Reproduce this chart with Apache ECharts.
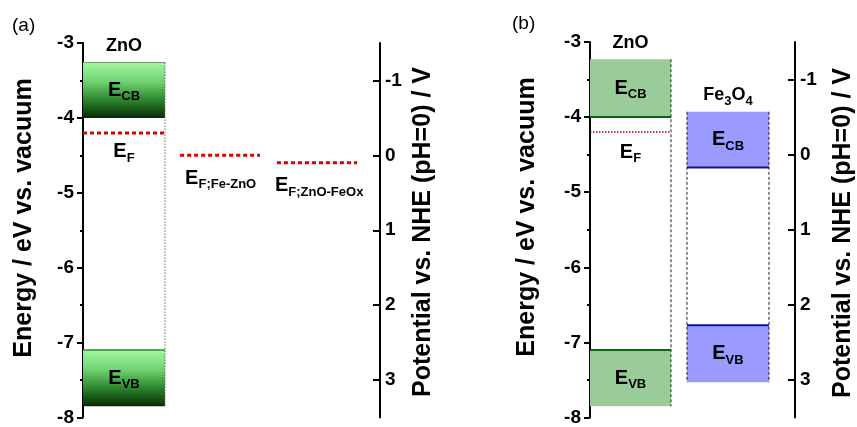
<!DOCTYPE html>
<html>
<head>
<meta charset="utf-8">
<script src="https://cdn.jsdelivr.net/npm/echarts@6/dist/echarts.min.js"></script>
<style>html,body{margin:0;padding:0;background:#fff;}#chart{width:857px;height:427px;}</style>
</head>
<body>
<div id="chart"></div>
<script>
// ---------- data (eV vs. vacuum) ----------
const energyTicks = [-8, -7, -6, -5, -4, -3];
const potentialTicks = [-1, 0, 1, 2, 3];
const potentialMinorTicks = [-1.5, -0.5, 0.5, 1.5, 2.5, 3.5];
const nheOffset = -4.5; // E(vacuum) = -(U_NHE) - 4.5

// panel (a)
const znoCB_A = [-3.26, -4.0];
const znoVB_A = [-7.1, -7.85];
const znoEF_A = -4.2;
const mixedFermiNames = ['F;Fe-ZnO', 'F;ZnO-FeOx'];
const mixedFermiValues = [-4.5, -4.6];

// panel (b)
const znoCB_B = [-3.23, -4.0];
const znoVB_B = [-7.1, -7.85];
const znoEF_B = -4.2;
const fe3o4CB = [-3.93, -4.67];
const fe3o4VB = [-6.77, -7.53];

// ---------- layout / style ----------
const FONT = 'Liberation Sans, Arial, sans-serif';
const colA = { zno: [0, 0.276], f1: [0.327, 0.596], f2: [0.653, 0.923] };
const colB = { zno: [0, 0.395], fe: [0.473, 0.873] };

const greenGrad = () => new echarts.graphic.LinearGradient(0, 0, 0, 1, [
  { offset: 0, color: '#a2f7a2' },
  { offset: 0.35, color: '#6fd26f' },
  { offset: 0.7, color: '#2a7f2a' },
  { offset: 1, color: '#062a06' }
]);

const richBase = {
  e: { fontSize: 20, fontWeight: 'bold', fontFamily: FONT, lineHeight: 26, fill: '#000', color: '#000' },
  s: { fontSize: 13, fontWeight: 'bold', fontFamily: FONT, lineHeight: 13, verticalAlign: 'bottom', fill: '#000', color: '#000' },
  t: { fontSize: 18, fontWeight: 'bold', fontFamily: FONT, lineHeight: 26, fill: '#000', color: '#000' },
  ts: { fontSize: 13, fontWeight: 'bold', fontFamily: FONT, lineHeight: 13, verticalAlign: 'bottom', fill: '#000', color: '#000' }
};

const itemsA = [
  { kind: 'box', x: colA.zno, y: znoCB_A, fill: greenGrad(), edgeTop: '#6a9a6a', edgeTopW: 1, label: '{e|E}{s|CB}', title: '{t|ZnO}' },
  { kind: 'box', x: colA.zno, y: znoVB_A, fill: greenGrad(), edgeTop: '#2a8a2a', edgeTopW: 1.5, label: '{e|E}{s|VB}' },
  { kind: 'vline', x: colA.zno[1], y: [znoCB_A[0], znoVB_A[1]], stroke: '#666', width: 1, dash: [1.5, 1.5] },
  { kind: 'hline', x: colA.zno, y: znoEF_A, stroke: '#d90000', width: 3, dash: [4, 3], label: '{e|E}{s|F}', labelAlign: 'center', dy: 19 },
  { kind: 'hline', x: colA.f1, y: mixedFermiValues[0], stroke: '#d90000', width: 3, dash: [4, 3], label: '{e|E}{s|' + mixedFermiNames[0] + '}', labelAlign: 'left', dx: 5, dy: 23 },
  { kind: 'hline', x: colA.f2, y: mixedFermiValues[1], stroke: '#d90000', width: 3, dash: [4, 3], label: '{e|E}{s|' + mixedFermiNames[1] + '}', labelAlign: 'left', dx: -2, dy: 23 }
];

const itemsB = [
  { kind: 'box', x: colB.zno, y: znoCB_B, fill: '#99cc99', edgeBottom: '#0a6a0a', edgeBottomW: 2, label: '{e|E}{s|CB}', title: '{t|ZnO}' },
  { kind: 'box', x: colB.zno, y: znoVB_B, fill: '#99cc99', edgeTop: '#0a6a0a', edgeTopW: 2, label: '{e|E}{s|VB}' },
  { kind: 'vline', x: colB.zno[1], y: [znoCB_B[0], znoVB_B[1]], stroke: '#222', width: 1, dash: [3, 2] },
  { kind: 'hline', x: colB.zno, y: znoEF_B, stroke: '#a00020', width: 1.5, dash: [1.5, 1.5], label: '{e|E}{s|F}', labelAlign: 'center', dy: 20 },
  { kind: 'box', x: colB.fe, y: fe3o4CB, fill: '#9a9aff', edgeBottom: '#1010a0', edgeBottomW: 2, label: '{e|E}{s|CB}', title: '{t|Fe}{ts|3}{t|O}{ts|4}', titleDy: -17 },
  { kind: 'box', x: colB.fe, y: fe3o4VB, fill: '#9a9aff', edgeTop: '#1010a0', edgeTopW: 2, label: '{e|E}{s|VB}' },
  { kind: 'vline', x: colB.fe[0], y: [fe3o4CB[0], fe3o4VB[1]], stroke: '#222', width: 1, dash: [3, 2] },
  { kind: 'vline', x: colB.fe[1], y: [fe3o4CB[0], fe3o4VB[1]], stroke: '#222', width: 1, dash: [3, 2] }
];

function makeRender(items) {
  return function (params, api) {
    const d = items[params.dataIndex];
    const c = (x, y) => api.coord([x, y]);
    const ch = [];
    if (d.kind === 'box') {
      const p0 = c(d.x[0], d.y[0]), p1 = c(d.x[1], d.y[1]);
      ch.push({ type: 'rect', shape: { x: p0[0], y: p0[1], width: p1[0] - p0[0], height: p1[1] - p0[1] }, style: { fill: d.fill } });
      if (d.edgeTop) ch.push({ type: 'line', shape: { x1: p0[0], y1: p0[1], x2: p1[0], y2: p0[1] }, style: { stroke: d.edgeTop, lineWidth: d.edgeTopW } });
      if (d.edgeBottom) ch.push({ type: 'line', shape: { x1: p0[0], y1: p1[1], x2: p1[0], y2: p1[1] }, style: { stroke: d.edgeBottom, lineWidth: d.edgeBottomW } });
      if (d.label) ch.push({ type: 'text', x: (p0[0] + p1[0]) / 2, y: (p0[1] + p1[1]) / 2, style: { text: d.label, rich: richBase, align: 'center', verticalAlign: 'middle' } });
      if (d.title) ch.push({ type: 'text', x: (p0[0] + p1[0]) / 2, y: p0[1] + (d.titleDy || -16), style: { text: d.title, rich: richBase, align: 'center', verticalAlign: 'middle' } });
    } else if (d.kind === 'vline') {
      const p0 = c(d.x, d.y[0]), p1 = c(d.x, d.y[1]);
      ch.push({ type: 'line', shape: { x1: p0[0], y1: p0[1], x2: p1[0], y2: p1[1] }, style: { stroke: d.stroke, lineWidth: d.width, lineDash: d.dash } });
    } else if (d.kind === 'hline') {
      const p0 = c(d.x[0], d.y), p1 = c(d.x[1], d.y);
      ch.push({ type: 'line', shape: { x1: p0[0], y1: p0[1], x2: p1[0], y2: p1[1] }, style: { stroke: d.stroke, lineWidth: d.width, lineDash: d.dash } });
      if (d.label) {
        const lx = d.labelAlign === 'center' ? (p0[0] + p1[0]) / 2 : p0[0] + (d.dx || 0);
        ch.push({ type: 'text', x: lx, y: p0[1] + d.dy, style: { text: d.label, rich: richBase, align: d.labelAlign, verticalAlign: 'middle' } });
      }
    }
    return { type: 'group', children: ch };
  };
}

function dataOf(items) {
  return items.map(d => {
    const xs = Array.isArray(d.x) ? d.x : [d.x, d.x];
    const ys = Array.isArray(d.y) ? d.y : [d.y, d.y];
    return [xs[0], ys[0], xs[1], ys[1]];
  });
}

const axisLine = { show: true, onZero: false, lineStyle: { color: '#000', width: 2 } };
const lbl = { color: '#000', fontSize: 19, fontWeight: 'bold', fontFamily: FONT };
const eMin = Math.min(...energyTicks), eMax = Math.max(...energyTicks);
const pMin = -eMax + nheOffset, pMax = -eMin + nheOffset;

function energyAxis(g) {
  return {
    type: 'value', gridIndex: g, position: 'left', min: eMin, max: eMax, interval: 1,
    axisLine, splitLine: { show: false },
    axisTick: { show: true, length: 6, lineStyle: { color: '#000', width: 2 } },
    minorTick: { show: true, splitNumber: 2, length: 3, lineStyle: { color: '#000', width: 2 } },
    axisLabel: Object.assign({ margin: 9 }, lbl)
  };
}
function potentialAxis(g) {
  return {
    type: 'value', gridIndex: g, position: 'right', min: pMin, max: pMax, inverse: true,
    axisLine, splitLine: { show: false },
    axisTick: { show: true, inside: true, length: 7, customValues: potentialTicks, lineStyle: { color: '#000', width: 2 } },
    axisLabel: Object.assign({ margin: 5, customValues: potentialTicks }, lbl)
  };
}
function potentialMinor(g) {
  return {
    type: 'value', gridIndex: g, position: 'right', min: pMin, max: pMax, inverse: true,
    axisLine: { show: false }, splitLine: { show: false },
    axisTick: { show: true, inside: true, length: 4, customValues: potentialMinorTicks, lineStyle: { color: '#000', width: 2 } },
    axisLabel: { show: false }
  };
}

const titleStyle = (size) => ({ fontSize: size, fontWeight: 'bold', fontFamily: FONT, fill: '#000', align: 'center', verticalAlign: 'middle' });

const option = {
  animation: false,
  backgroundColor: '#fff',
  grid: [
    { left: 83, top: 43, width: 297, height: 378 },
    { left: 590, top: 42, width: 205, height: 377 }
  ],
  xAxis: [
    { type: 'value', gridIndex: 0, min: 0, max: 1, show: false },
    { type: 'value', gridIndex: 1, min: 0, max: 1, show: false }
  ],
  yAxis: [energyAxis(0), potentialAxis(0), potentialMinor(0), energyAxis(1), potentialAxis(1), potentialMinor(1)],
  series: [
    { type: 'custom', xAxisIndex: 0, yAxisIndex: 0, renderItem: makeRender(itemsA), data: dataOf(itemsA), silent: true, z: 5 },
    { type: 'custom', xAxisIndex: 1, yAxisIndex: 3, renderItem: makeRender(itemsB), data: dataOf(itemsB), silent: true, z: 5 }
  ],
  graphic: [
    { type: 'text', x: 12, y: 26, style: { text: '(a)', fontSize: 19, fontFamily: FONT, fill: '#000', verticalAlign: 'middle' } },
    { type: 'text', x: 512, y: 24, style: { text: '(b)', fontSize: 19, fontFamily: FONT, fill: '#000', verticalAlign: 'middle' } },
    { type: 'text', x: 24, y: 218, rotation: Math.PI / 2, style: Object.assign({ text: 'Energy / eV vs. vacuum' }, titleStyle(25)) },
    { type: 'text', x: 527, y: 217, rotation: Math.PI / 2, style: Object.assign({ text: 'Energy / eV vs. vacuum' }, titleStyle(25)) },
    { type: 'text', x: 423, y: 232, rotation: Math.PI / 2, style: Object.assign({ text: 'Potential vs. NHE (pH=0) / V' }, titleStyle(25)) },
    { type: 'text', x: 843, y: 233, rotation: Math.PI / 2, style: Object.assign({ text: 'Potential vs. NHE (pH=0) / V' }, titleStyle(25)) }
  ]
};

const chart = echarts.init(document.getElementById('chart'), null, { renderer: 'canvas' });
chart.setOption(option);
</script>
</body>
</html>
